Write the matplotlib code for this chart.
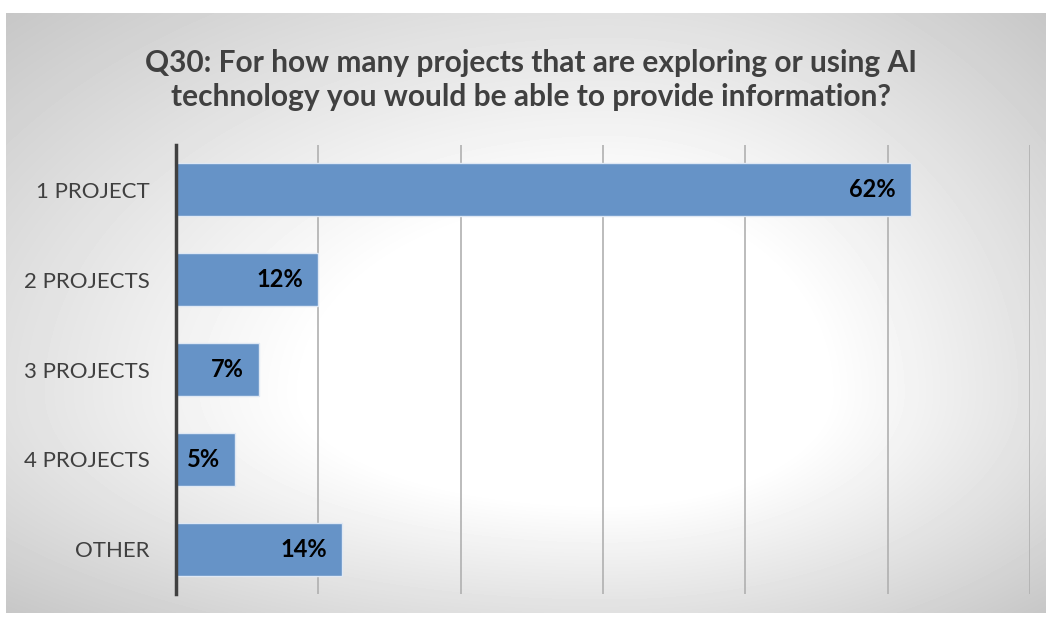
import matplotlib.pyplot as plt
import numpy as np

categories = ["1 PROJECT", "2 PROJECTS", "3 PROJECTS", "4 PROJECTS", "OTHER"]
shares = [0.62, 0.12, 0.07, 0.05, 0.14]
value_labels = ["62%", "12%", "7%", "5%", "14%"]
title = ("Q30: For how many projects that are exploring or using AI\n"
         "technology you would be able to provide information?")

W, H = 1046, 617
fig = plt.figure(figsize=(W / 100, H / 100), dpi=100)
fig.patch.set_facecolor("white")

# chart box with a radial gradient fill (white plateau, grey corners)
bw, bh = W - 6, 600
box = fig.add_axes([6 / W, 1 - 613 / H, bw / W, bh / H])
yy, xx = np.mgrid[0:bh, 0:bw].astype(float)
cx, cy = 600, 380
rx = np.where(xx < cx, 600.0, 440.0)
ry = np.where(yy < cy, 380.0, 220.0)
r = np.sqrt(((xx - cx) / rx) ** 2 + ((yy - cy) / ry) ** 2)
shade = 1 - 0.22 * np.clip((r - 0.5) / 0.91, 0, None)
shade = np.clip(shade, 0.76, 1.0)
box.imshow(shade, cmap="gray", vmin=0, vmax=1, aspect="auto",
           extent=[0, 1, 0, 1], interpolation="bilinear")
box.set_axis_off()

ax = fig.add_axes([176 / W, 1 - 594 / H, (1030 - 176) / W, (594 - 145) / H])
ax.patch.set_alpha(0)

y = np.arange(len(categories))
ax.barh(y, shares, height=0.59, color="#6693c7", edgecolor="#dfe8f4",
        linewidth=1.0, zorder=3)

for yi, v, lab in zip(y, shares, value_labels):
    ax.annotate(lab, (v, yi), xytext=(-11, 0), textcoords="offset points",
                ha="right", va="center", fontsize=17, fontweight="bold",
                family="Lato", color="black", zorder=4)

ax.set_xlim(0, 0.72)
ax.set_ylim(len(categories) - 0.5, -0.5)
ax.set_xticks(np.arange(0, 0.73, 0.12))
ax.set_xticklabels([])
ax.tick_params(axis="x", length=0)
ax.grid(axis="x", color="#b0b0b0", linewidth=1.2, zorder=0)

ax.set_yticks(y)
ax.set_yticklabels(categories, fontsize=16, family="Lato", color="#404040")
ax.tick_params(axis="y", length=0, pad=19)

for side in ["top", "right", "bottom"]:
    ax.spines[side].set_visible(False)
ax.spines["left"].set_color("#404040")
ax.spines["left"].set_linewidth(2.5)
ax.spines["left"].set_zorder(5)

fig.text(531 / W, 1 - 80 / H, title, ha="center", va="center",
         fontsize=21.5, fontweight="bold", family="Lato", color="#404040",
         linespacing=1.25)

fig.savefig("out.png", dpi=100)
